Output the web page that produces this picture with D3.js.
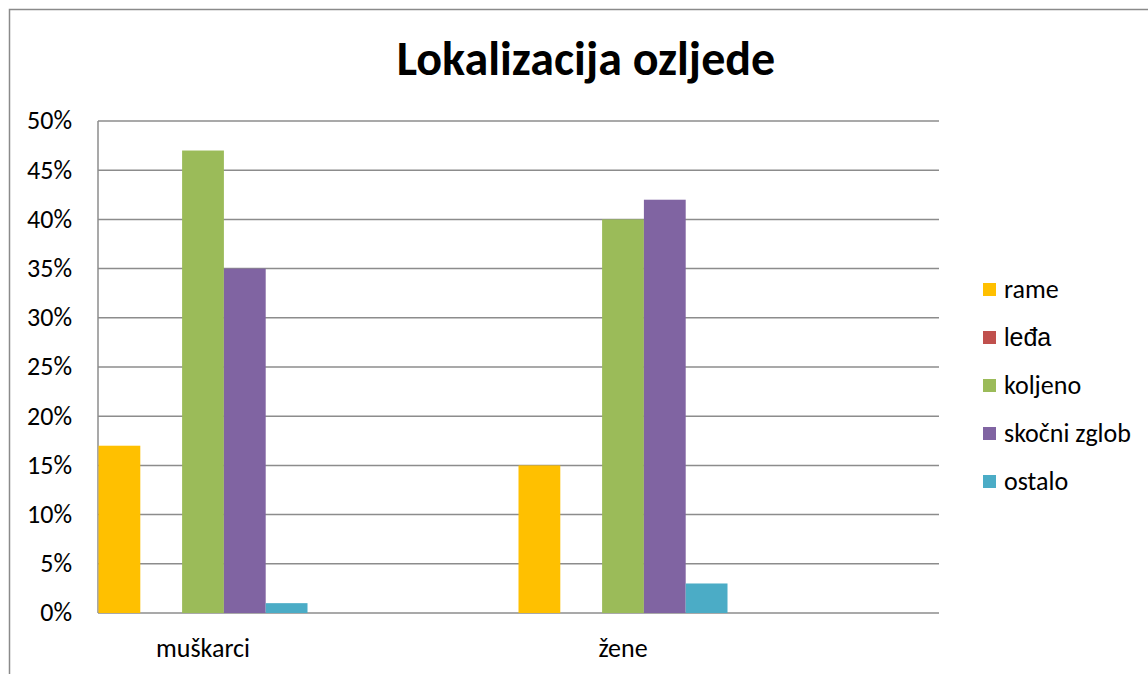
<!DOCTYPE html>
<html>
<head>
<meta charset="utf-8">
<script src="https://cdn.jsdelivr.net/npm/d3@7"></script>
<style>
  body { margin: 0; background: #fff; }
  svg text { font-family: Carlito, Calibri, "Liberation Sans", sans-serif; }
</style>
</head>
<body>
<svg class="chart"></svg>
<script>
// chart data
const categories = ['muškarci', 'žene'];
const categorySlots = [0, 2];          // the source sheet had 4 rows, two of them empty
const seriesNames = ['rame', 'leđa', 'koljeno', 'skočni zglob', 'ostalo'];
const rame = [17, 15];
const leda = [0, 0];
const koljeno = [47, 40];
const skocniZglob = [35, 42];
const ostalo = [1, 3];
const yTicks = [0, 5, 10, 15, 20, 25, 30, 35, 40, 45, 50];
const colors = ['#FFC000', '#C0504D', '#9BBB59', '#8064A2', '#4BACC6'];

const seriesValues = [rame, leda, koljeno, skocniZglob, ostalo];

const W = 1148, H = 674;
const svg = d3.select('.chart').attr('width', W).attr('height', H);

// chart border (runs off the right/bottom edge like the screenshot)
svg.append('rect')
  .attr('x', 9.5).attr('y', 9.5)
  .attr('width', W + 20).attr('height', H + 20)
  .attr('fill', 'none').attr('stroke', '#8a8a8a').attr('stroke-width', 1.5);

const plot = {left: 98, right: 938, top: 121, bottom: 613};

const y = d3.scaleLinear().domain([0, 50]).range([plot.bottom, plot.top]);
const slot = d3.scaleBand().domain(d3.range(4)).range([plot.left, plot.right]);
const inner = d3.scaleBand().domain(d3.range(seriesNames.length))
  .range([0, slot.bandwidth()]).paddingOuter(0.012);

// gridlines
svg.append('g').selectAll('line').data(yTicks).enter().append('line')
  .attr('x1', plot.left).attr('x2', plot.right + 1)
  .attr('y1', d => y(d)).attr('y2', d => y(d))
  .attr('stroke', '#8c8c8c').attr('stroke-width', 1.5);

// y axis line
svg.append('line')
  .attr('x1', plot.left).attr('x2', plot.left)
  .attr('y1', plot.top).attr('y2', plot.bottom)
  .attr('stroke', '#8c8c8c').attr('stroke-width', 1.5);

// y tick labels
svg.append('g').selectAll('text').data(yTicks).enter().append('text')
  .attr('x', 72).attr('y', d => y(d))
  .attr('dy', '0.32em')
  .attr('text-anchor', 'end')
  .attr('font-size', 26)
  .attr('fill', '#000')
  .text(d => d + '%');

// bars
seriesValues.forEach((vals, s) => {
  svg.append('g').selectAll('rect').data(vals).enter().append('rect')
    .attr('x', (d, i) => slot(categorySlots[i]) + inner(s))
    .attr('width', inner.bandwidth())
    .attr('y', d => y(d))
    .attr('height', d => y(0) - y(d))
    .attr('fill', colors[s]);
});

// category labels
svg.append('g').selectAll('text').data(categories).enter().append('text')
  .attr('x', (d, i) => slot(categorySlots[i]) + slot.bandwidth() / 2)
  .attr('y', 657)
  .attr('text-anchor', 'middle')
  .attr('font-size', 26)
  .attr('fill', '#000')
  .text(d => d);

// title
svg.append('text')
  .attr('x', 586).attr('y', 75)
  .attr('text-anchor', 'middle')
  .attr('font-size', 48)
  .attr('font-weight', 'bold')
  .attr('fill', '#000')
  .text('Lokalizacija ozljede');

// legend
const legend = svg.append('g').selectAll('g').data(seriesNames).enter().append('g')
  .attr('transform', (d, i) => `translate(983, ${290 + i * 48})`);

legend.append('rect')
  .attr('x', 0).attr('y', -7)
  .attr('width', 13).attr('height', 13)
  .attr('fill', (d, i) => colors[i]);

legend.append('text')
  .attr('x', 21).attr('dy', '0.32em')
  .attr('font-size', (d, i) => i === 1 ? 25 : 26)
  .style('font-family', (d, i) => i === 1 ? '"Liberation Sans", Arial, sans-serif' : null)
  .attr('fill', '#000')
  .text(d => d);
</script>
</body>
</html>
